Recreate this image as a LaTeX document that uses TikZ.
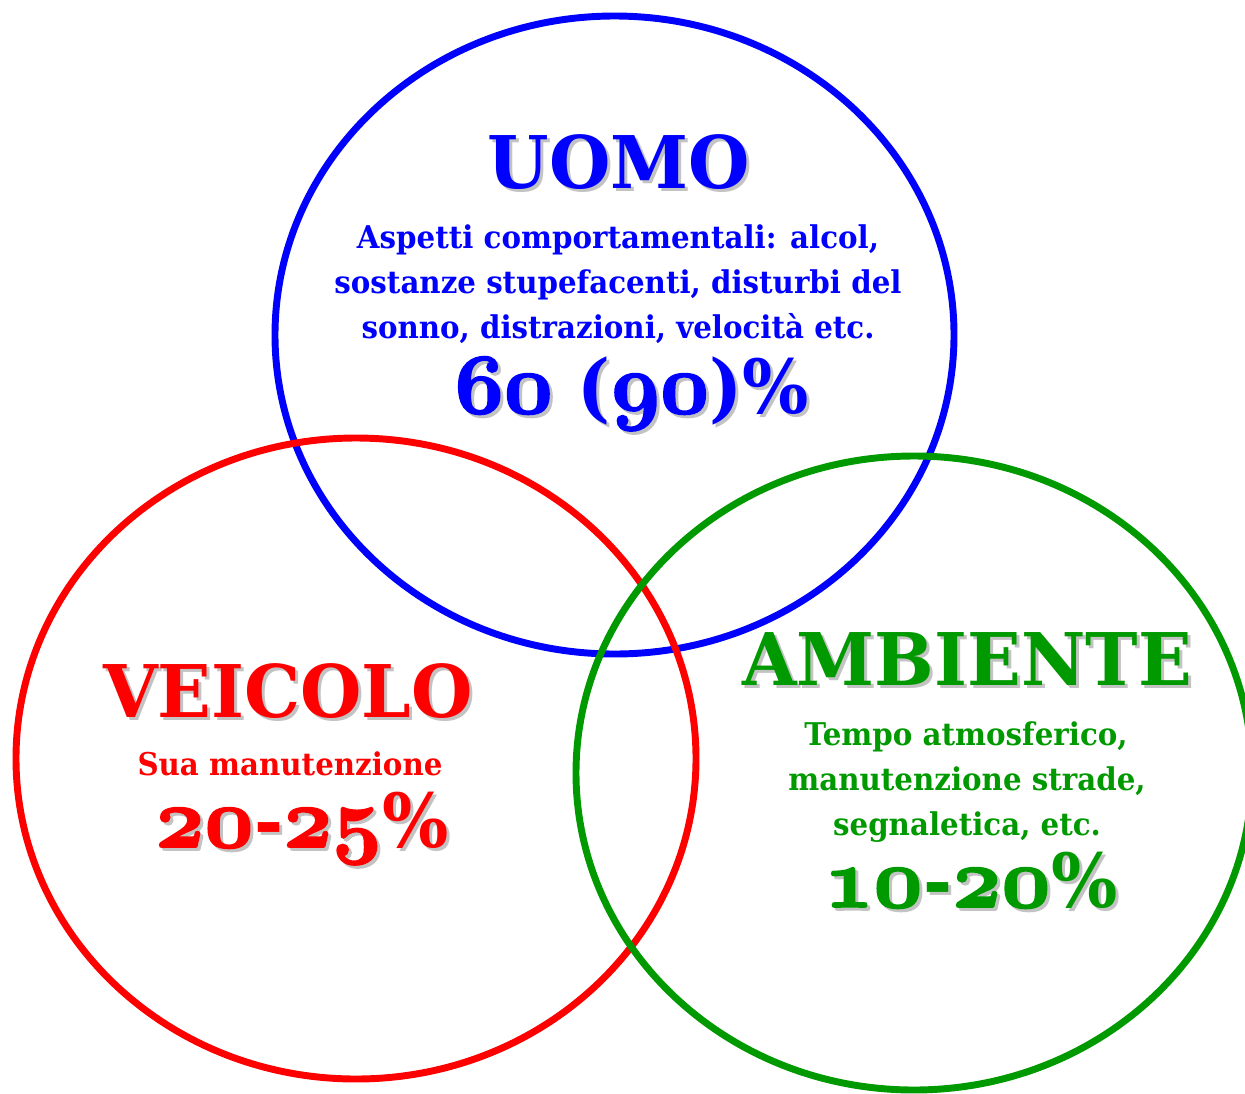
\RequirePackage{fix-cm}
\documentclass[tikz,border=0pt]{standalone}
\usepackage{fontspec}
\setmainfont{DejaVu Serif}[FakeStretch=0.935]
\newfontfamily\headfont{DejaVu Serif}[FakeStretch=0.97]
\definecolor{ublue}{RGB}{0,0,255}
\definecolor{vred}{RGB}{255,0,0}
\definecolor{agreen}{RGB}{0,153,0}
\definecolor{shad}{RGB}{195,195,195}
% bold old-style digits (outline stroked for extra weight)
\newcommand{\osd}[1]{{\fontencoding{OML}\fontfamily{cmm}\fontseries{b}\fontshape{it}\fontsize{64pt}{64pt}\selectfont
  \special{pdf:literal direct 2 Tr 1.3 w}#1\special{pdf:literal direct 0 Tr}\kern0.6pt}}
% text with a grey drop shadow
\newcommand{\shd}[1]{\rlap{\kern2.25pt\raisebox{-2.25pt}{\color{shad}#1}}#1}
\begin{document}
\begin{tikzpicture}[x=0.75pt,y=-0.75pt,
  ring/.style={line width=5.2pt},
  lbl/.style={anchor=base,inner sep=0pt},
  big/.style={lbl,font=\headfont\fontsize{54.5pt}{60pt}\selectfont\bfseries},
  num/.style={lbl,font=\fontsize{56pt}{60pt}\selectfont\bfseries},
  small/.style={lbl,font=\fontsize{23.5pt}{28pt}\selectfont\bfseries}]
\useasboundingbox (0,0) rectangle (1245,1093);
% circles
\draw[ring,ublue] (614.5,335) ellipse [x radius=339.5, y radius=319];
\draw[ring,vred] (356,758.5) ellipse [x radius=340, y radius=320.5];
\draw[ring,agreen] (914,773) ellipse [x radius=338, y radius=317];
% UOMO
\node[big,text=ublue] (uomo) at (619,188) {\shd{UOMO}};
\node[small,text=ublue] (u1) at (618,248) {Aspetti comportamentali: alcol,};
\node[small,text=ublue] (u2) at (618,293) {sostanze stupefacenti, disturbi del};
\node[small,text=ublue] (u3) at (618,338) {sonno, distrazioni, velocità etc.};
\node[num,text=ublue] (unum) at (632,413) {\shd{\osd{60} (\osd{90})\%}};
% VEICOLO
\node[big,text=vred] (vei) at (288,717) {\shd{VEICOLO}};
\node[small,text=vred] (v1) at (290,775) {Sua manutenzione};
\node[num,text=vred] (vnum) at (302,847) {\shd{\osd{20}-\osd{25}\%}};
% AMBIENTE
\node[big,text=agreen] (amb) at (967,685) {\shd{AMBIENTE}};
\node[small,text=agreen] (a1) at (966,745) {Tempo atmosferico,};
\node[small,text=agreen] (a2) at (967,790) {manutenzione strade,};
\node[small,text=agreen] (a3) at (967,835) {segnaletica, etc.};
\node[num,text=agreen] (anum) at (971,907) {\shd{\osd{10}-\osd{20}\%}};
\end{tikzpicture}
\end{document}
